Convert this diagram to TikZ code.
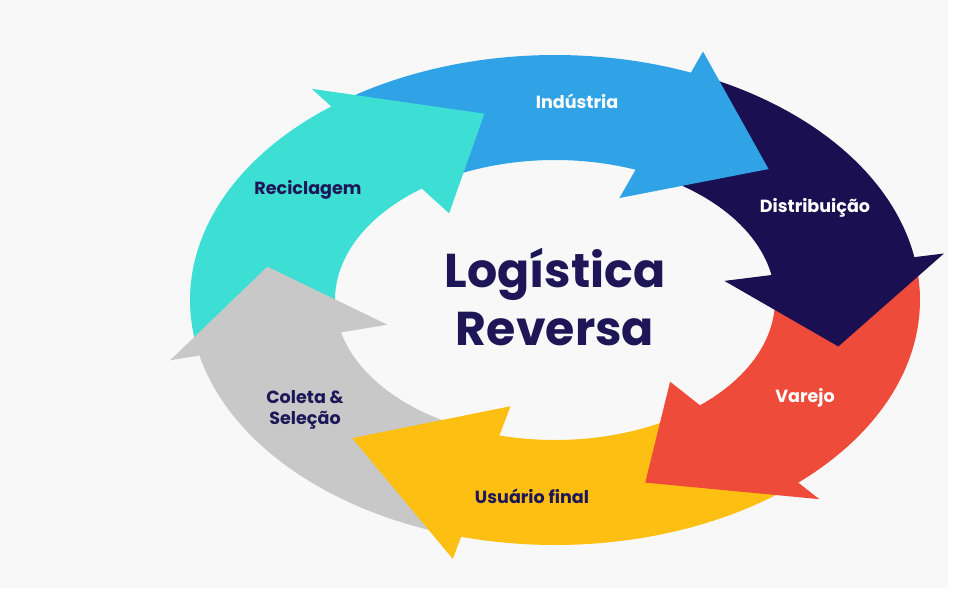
\documentclass[tikz,border=0pt]{standalone}
\usepackage{fontspec}
\setmainfont{Poppins}
\definecolor{cya}{HTML}{3DDFD4}
\definecolor{blu}{HTML}{30A3E6}
\definecolor{nav}{HTML}{1A0F50}
\definecolor{red}{HTML}{EE4B3A}
\definecolor{yel}{HTML}{FDBF11}
\definecolor{gry}{HTML}{C8C8C8}
\definecolor{txt}{HTML}{1E1656}
\definecolor{bg}{HTML}{F8F8F9}
\newcommand\myseg[3]{\fill[#1] plot[domain=#2:#3,samples=50] ({555+365*cos(\x)},{300+245*sin(\x)}) -- plot[domain=#3:#2,samples=50] ({555+220*cos(\x)},{300+140*sin(\x)}) -- cycle;}
\newcommand\myhd[3]{\fill[#1] ({555+395*cos(#2)},{300+268*sin(#2)}) -- ({555+292*cos(#3)},{300+192*sin(#3)}) -- ({555+172*cos(#2)},{300+110*sin(#2)}) -- cycle;}
\tikzset{lab/.style={font=\bfseries\fontsize{10}{12}\selectfont,align=center}}
\begin{document}
\begin{tikzpicture}[x=0.02cm,y=0.02cm]
\useasboundingbox (0,0) rectangle (960,600);
\fill[white] (0,0) rectangle (960,600);
\fill[bg] (0,12) rectangle (948,600);
\myseg{cya}{190}{126}
\myseg{blu}{125}{66}
\myseg{nav}{66}{8}
\myseg{red}{8}{-50}
\myseg{yel}{-51}{-107}
\myseg{gry}{-108}{-170}
\myhd{cya}{128}{104}
\myhd{blu}{68}{43}
\myhd{nav}{10}{-14}
\myhd{red}{-48}{-72}
\myhd{yel}{-105}{-134}
\myhd{gry}{-167}{-190}
\node[lab,text=white] (ind) at (577,499) {Indústria};
\node[lab,text=white] (dis) at (815,392) {Distribuição};
\node[lab,text=white] (var) at (805,202) {Varejo};
\node[lab,text=txt] (usu) at (532,104) {Usuário final};
\node[lab,text=txt] (col) at (305,190) {Coleta \&\\Seleção};
\node[lab,text=txt] (rec) at (308,410) {Reciclagem};
\node[font=\bfseries\fontsize{27}{33}\selectfont,text=txt,align=center] (tit) at (555,303) {Logística\\Reversa};
\end{tikzpicture}
\end{document}
